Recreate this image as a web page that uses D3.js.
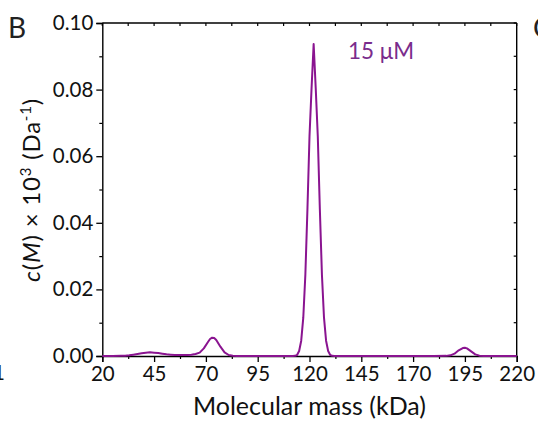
<!DOCTYPE html>
<html>
<head>
<meta charset="utf-8">
<script src="https://cdn.jsdelivr.net/npm/d3@7"></script>
<style>
  html, body { margin: 0; padding: 0; background: #fff; }
  svg { display: block; }
  text { font-family: Lato, "Open Sans", sans-serif; }
</style>
</head>
<body>
<svg id="chart" width="538" height="424"></svg>
<script>
// Continuous c(M) distribution, 15 µM sample
const massKDa = [
  20, 25, 29, 31, 33, 35, 37, 39, 41, 43, 45, 47, 49, 51, 53, 55, 57, 59, 61,
  63, 65, 67, 69, 71, 72, 73, 74, 75, 77, 79, 81, 83, 85, 90, 100, 110,
  112, 113, 114, 115, 116, 117, 118, 119, 120, 121, 122, 123, 124, 125, 126,
  127, 128, 129, 130, 131, 132, 140, 160, 180, 186, 188, 190, 192, 194, 195,
  196, 198, 200, 202, 204, 210, 220
];
const cM = [
  0, 0, 0.00005, 0.0001, 0.0002, 0.0004, 0.0006, 0.0008, 0.0010, 0.0011, 0.0010, 0.0009, 0.0007, 0.0005, 0.0004, 0.0003, 0.0003, 0.0003, 0.0003,
  0.0004, 0.0006, 0.0010, 0.0023, 0.0042, 0.0051, 0.0055, 0.0054, 0.0048, 0.0028, 0.0011, 0.0003, 0.0001, 0, 0, 0, 0,
  0, 0.00005, 0.0003, 0.0015, 0.0046, 0.0115, 0.0244, 0.0440, 0.0660, 0.0805, 0.0937, 0.0805, 0.0660, 0.0440, 0.0244,
  0.0115, 0.0046, 0.0015, 0.0003, 0.00005, 0, 0, 0, 0, 0.00004, 0.0002, 0.0007, 0.0017, 0.0024, 0.0025,
  0.0023, 0.0014, 0.0005, 0.0001, 0, 0, 0
];

const xTicks = [20, 45, 70, 95, 120, 145, 170, 195, 220];
const yTicks = [0.00, 0.02, 0.04, 0.06, 0.08, 0.10];
const xMinor = d3.range(20, 220.01, 12.5);
const yMinor = d3.range(0, 0.1001, 0.01);

const panelLabel = "B";
const concLabel = "15 μM";
const xTitle = "Molecular mass (kDa)";

const lineColor = "#8a1490";
const textPurple = "#7a2c8c";

const svg = d3.select("#chart");
const plotL = 102.3, plotR = 516.7, plotT = 23, plotB = 356;

const x = d3.scaleLinear().domain([20, 220]).range([plotL, plotR]);
const y = d3.scaleLinear().domain([0, 0.1]).range([plotB, plotT]);

const axisW = 1.4;

// frame: top and right edges with inward minor ticks
svg.append("line").attr("x1", plotL).attr("x2", plotR).attr("y1", plotT).attr("y2", plotT)
  .attr("stroke", "#000").attr("stroke-width", axisW);
svg.append("line").attr("x1", plotR).attr("x2", plotR).attr("y1", plotT).attr("y2", plotB)
  .attr("stroke", "#000").attr("stroke-width", axisW);
svg.append("g").selectAll("line").data(xMinor).join("line")
  .attr("x1", d => x(d)).attr("x2", d => x(d)).attr("y1", plotT).attr("y2", plotT + 3)
  .attr("stroke", "#000").attr("stroke-width", 1.2);
svg.append("g").selectAll("line").data(yMinor).join("line")
  .attr("x1", plotR).attr("x2", plotR - 3).attr("y1", d => y(d)).attr("y2", d => y(d))
  .attr("stroke", "#000").attr("stroke-width", 1.2);

// bottom axis
const xAxis = svg.append("g").attr("transform", `translate(0,${plotB})`)
  .call(d3.axisBottom(x).tickValues(xTicks).tickSize(6).tickPadding(4).tickFormat(d3.format("d")));
svg.append("g").attr("transform", `translate(0,${plotB})`)
  .call(d3.axisBottom(x).tickValues(xMinor.filter(v => !xTicks.includes(v))).tickSize(3).tickFormat(""))
  .call(g => g.select(".domain").remove())
  .selectAll("line").attr("stroke-width", 1.2);

// left axis
const yAxis = svg.append("g").attr("transform", `translate(${plotL},0)`)
  .call(d3.axisLeft(y).tickValues(yTicks).tickSize(6).tickPadding(3).tickFormat(d3.format(".2f")));
svg.append("g").attr("transform", `translate(${plotL},0)`)
  .call(d3.axisLeft(y).tickValues(yMinor.filter(v => !yTicks.some(t => Math.abs(t - v) < 1e-9))).tickSize(3).tickFormat(""))
  .call(g => g.select(".domain").remove())
  .selectAll("line").attr("stroke-width", 1.2);

[xAxis, yAxis].forEach(g => {
  g.select(".domain").attr("stroke-width", axisW);
  g.selectAll(".tick line").attr("stroke-width", 1.3);
  g.selectAll("text").attr("font-size", 20.5).attr("fill", "#111")
    .style("font-family", "Lato, 'Open Sans', sans-serif");
});
xAxis.selectAll("text").attr("dy", "0.72em");

// distribution curve
const pts = massKDa.map((m, i) => [m, cM[i]]);
svg.append("path")
  .datum(pts)
  .attr("fill", "none")
  .attr("stroke", lineColor)
  .attr("stroke-width", 2)
  .attr("stroke-linejoin", "round")
  .attr("d", d3.line().x(d => x(d[0])).y(d => y(d[1])));

// axis titles
svg.append("text")
  .attr("x", 309.5).attr("y", 415)
  .attr("text-anchor", "middle").attr("font-size", 25).attr("fill", "#111")
  .text(xTitle);

const yt = svg.append("text")
  .attr("transform", `translate(40,190) rotate(-90)`)
  .attr("text-anchor", "middle").attr("font-size", 24).attr("fill", "#111")
  .attr("letter-spacing", 0.8);
yt.append("tspan").attr("font-style", "italic").text("c");
yt.append("tspan").text("(");
yt.append("tspan").attr("font-style", "italic").text("M");
yt.append("tspan").text(") × 10");
yt.append("tspan").attr("font-size", 15).attr("dy", -9).text("3");
yt.append("tspan").attr("dy", 9).text(" (Da");
yt.append("tspan").attr("font-size", 15).attr("dy", -9).text("-1");
yt.append("tspan").attr("dy", 9).text(")");

// annotations
svg.append("text").attr("x", 348).attr("y", 59)
  .attr("font-size", 22.5).attr("fill", textPurple).text(concLabel);
svg.append("text").attr("x", 8).attr("y", 38)
  .attr("font-size", 28).attr("fill", "#222").text(panelLabel);
// neighbouring panel edges
svg.append("text").attr("x", 533).attr("y", 38)
  .attr("font-size", 28).attr("fill", "#222").text("C");
svg.append("text").attr("x", -7).attr("y", 380)
  .attr("font-size", 20.5).attr("fill", "#111").text("1");
</script>
</body>
</html>
